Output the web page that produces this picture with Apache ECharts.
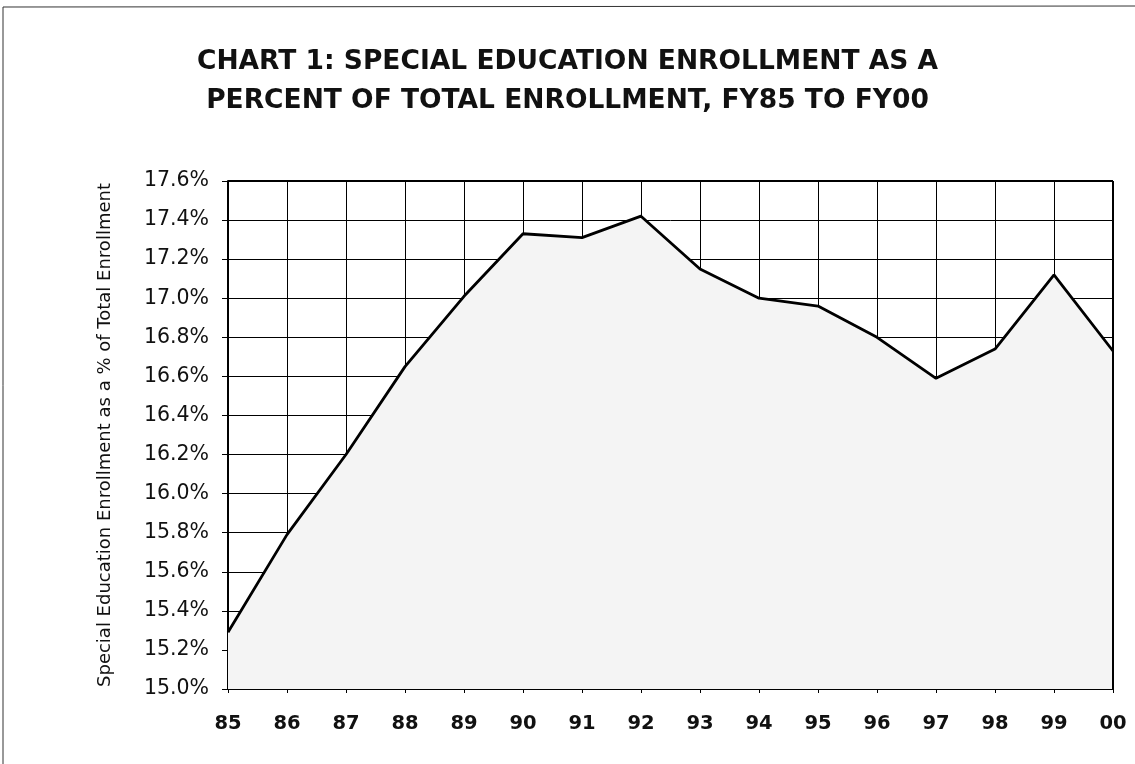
<!DOCTYPE html>
<html>
<head>
<meta charset="utf-8">
<script src="https://cdn.jsdelivr.net/npm/echarts@6/dist/echarts.min.js"></script>
<style>
html,body{margin:0;padding:0;background:#fff;}
#main{width:1135px;height:764px;}
</style>
</head>
<body>
<div id="main"></div>
<script>
var years = ['85','86','87','88','89','90','91','92','93','94','95','96','97','98','99','00'];
var sharePct = [15.29,15.79,16.20,16.65,17.01,17.33,17.31,17.42,17.15,17.00,16.96,16.80,16.59,16.74,17.12,16.73];
var yMin = 15.0, yMax = 17.6, yStep = 0.2;

var chart = echarts.init(document.getElementById('main'));
chart.setOption({
  backgroundColor: '#ffffff',
  animation: false,
  title: {
    text: 'CHART 1: SPECIAL EDUCATION ENROLLMENT AS A\nPERCENT OF TOTAL ENROLLMENT, FY85 TO FY00',
    left: 'center',
    top: 38,
    textStyle: {
      fontFamily: 'DejaVu Sans',
      fontWeight: 'bold',
      fontSize: 26.5,
      lineHeight: 39,
      color: '#111'
    }
  },
  graphic: [
    {type: 'line', shape: {x1: 3, y1: 7, x2: 1135, y2: 6}, style: {stroke: '#333', lineWidth: 1}},
    {type: 'line', shape: {x1: 3, y1: 7, x2: 3, y2: 764}, style: {stroke: '#333', lineWidth: 1}}
  ],
  grid: {left: 228, right: 22, top: 181, height: 508, containLabel: false},
  xAxis: {
    type: 'category',
    data: years,
    boundaryGap: false,
    axisLine: {show: true, lineStyle: {color: '#000', width: 2}},
    axisTick: {show: true, length: 4, lineStyle: {color: '#000', width: 1}},
    axisLabel: {margin: 25, fontFamily: 'DejaVu Sans', fontWeight: 'bold', fontSize: 19.5, color: '#111'},
    splitLine: {show: true, lineStyle: {color: '#000', width: 1}}
  },
  yAxis: {
    type: 'value',
    min: yMin, max: yMax, interval: yStep,
    name: 'Special Education Enrollment as a % of Total Enrollment',
    nameLocation: 'middle',
    nameGap: 114,
    nameTextStyle: {fontFamily: 'DejaVu Sans', fontSize: 18, color: '#111'},
    axisLine: {show: true, lineStyle: {color: '#000', width: 2}},
    axisTick: {show: true, length: 6, lineStyle: {color: '#000', width: 1}},
    axisLabel: {
      margin: 19, fontFamily: 'DejaVu Sans', fontSize: 20.5, color: '#111',
      formatter: function (v) { return v.toFixed(1) + '%'; }
    },
    splitLine: {show: true, lineStyle: {color: '#000', width: 1}}
  },
  series: [{
    type: 'line',
    data: sharePct,
    symbol: 'none',
    lineStyle: {color: '#000', width: 2.8},
    areaStyle: {color: '#f4f4f4', opacity: 1, origin: 'start'},
    z: 3
  }, {
    type: 'line',
    data: [],
    markLine: {
      silent: true, symbol: 'none', label: {show: false},
      lineStyle: {color: '#000', width: 2, type: 'solid'},
      data: [[{coord: [0, yMax]}, {coord: [years.length - 1, yMax]}],
             [{coord: [years.length - 1, yMin]}, {coord: [years.length - 1, yMax]}]]
    }
  }]
});
</script>
</body>
</html>
